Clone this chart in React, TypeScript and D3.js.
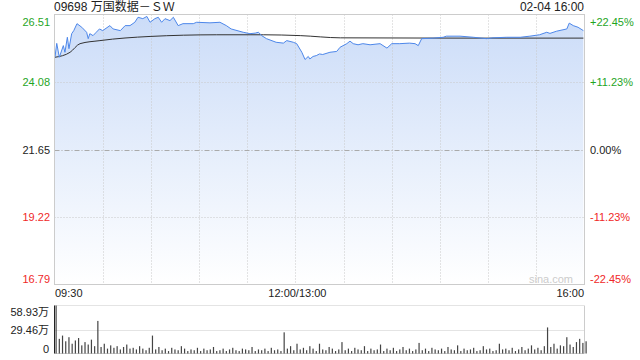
import React from "react";
import * as d3 from "d3";

const title = "09698 万国数据－ＳＷ";
const dateLabel = "02-04 16:00";
const priceTicks = [26.51, 24.08, 21.65, 19.22, 16.79];
const pctTicks = ["+22.45%", "+11.23%", "0.00%", "-11.23%", "-22.45%"];
const timeLabels = ["09:30", "12:00/13:00", "16:00"];
const volTickLabels = ["58.93万", "29.46万", "0"];
const volTickValues = [58.93, 29.46, 0];

// minute offsets from 09:30 (trading minutes, lunch removed)
const priceMinutes = [0.3, 1.4, 3, 5.5, 6.5, 8, 9, 10.7, 12, 14, 17, 20, 21, 22, 24, 26, 28, 30, 34.5, 36.5, 41, 44, 47, 50, 52, 55, 57.5, 59.5, 62.5, 64.6, 66.7, 68.8, 71.9, 74, 77, 80, 86.4, 88.5, 96.8, 103, 107, 110, 117.5, 121.7, 125, 127, 129, 132, 138, 142.5, 144.6, 148.7, 150.8, 154, 156, 158, 159, 161, 163, 165, 167, 171.5, 175.7, 177.8, 182, 184, 186, 189, 192, 196.5, 202.7, 207, 210, 215, 221, 224.5, 226.5, 228.6, 236, 242, 244, 252.5, 260.8, 269, 273, 281.5, 290, 296, 302, 306.5, 308.5, 312.7, 319, 320.5, 323, 326, 329.3];
const priceValues = [24.97, 25.47, 24.97, 25.39, 25.15, 25.69, 25.28, 25.82, 25.93, 26.18, 26.05, 25.87, 25.64, 25.82, 25.75, 25.87, 25.99, 25.93, 26.11, 25.99, 25.93, 26.11, 26.11, 26.23, 26.41, 26.36, 26.44, 26.23, 26.36, 26.41, 26.23, 26.36, 26.29, 26.41, 26.11, 26.18, 26.18, 26.23, 26.21, 26.23, 26.11, 25.99, 25.87, 25.82, 25.84, 25.87, 25.75, 25.64, 25.51, 25.48, 25.57, 25.51, 25.46, 25.15, 24.89, 25.0, 24.91, 25.0, 25.03, 25.09, 25.07, 25.15, 25.18, 25.33, 25.46, 25.55, 25.46, 25.42, 25.46, 25.42, 25.46, 25.3, 25.46, 25.46, 25.48, 25.46, 25.39, 25.64, 25.66, 25.69, 25.73, 25.73, 25.69, 25.64, 25.67, 25.69, 25.69, 25.73, 25.78, 25.87, 25.83, 25.91, 25.99, 26.2, 26.11, 26.05, 25.93];

const avgMinutes = [0.3, 9.7, 15.9, 28.3, 59.5, 101, 130, 153, 178, 250, 329.3];
const avgValues = [24.97, 25.15, 25.46, 25.57, 25.72, 25.78, 25.78, 25.75, 25.67, 25.66, 25.66];

// volume (万) per 2-minute slot
const volumeValues = [
  58.9,
  18, 22, 15, 20, 12, 16, 19, 10, 14, 11, 17, 9,
  40,
  8, 12, 6, 10, 7, 9, 5, 8, 11, 6, 7, 5, 9, 6, 4, 7,
  22,
  5, 8, 4, 6, 3, 7, 5, 4, 9, 6,
  3, 5, 4, 7, 3, 6, 4, 5, 8, 3,
  4, 6, 3, 5, 7, 4, 3, 6, 5, 4,
  8, 3, 5, 4, 6, 3, 7, 4, 5, 3,
  26,
  6, 9, 4, 12,
  5, 7, 4, 9, 6, 3, 12, 5, 4, 8,
  6, 3, 5, 14, 4, 6, 3, 7, 5, 4,
  9, 3, 6, 4, 5, 11, 3, 6, 4, 7,
  3, 5, 8, 4, 6, 3, 5, 13, 4, 6,
  3, 7, 5, 4, 6, 3, 8, 5, 4, 10,
  3, 6, 4, 5, 7, 3, 4, 9, 5, 6,
  3, 4, 12, 5, 6, 4, 7, 3, 5, 8,
  4, 6, 10, 5, 7, 4, 9,
  32,
  8, 12, 6, 10, 9,
  20,
  11, 8, 14,
  18,
  13, 15,
];
const volSlotMinutes = 2;

const GREEN = "#1fa51f";
const RED = "#f02828";
const FONT = "'Liberation Sans', Arial, 'Noto Sans CJK SC', sans-serif";

export default function App() {
  const L = 54.5, R = 584.5, T = 14.5, B = 284.5;
  const VT = 305.5, VB = 353.5;
  const x = d3.scaleLinear().domain([0, 330]).range([L, R]);
  const y = d3.scaleLinear().domain([16.79, 26.51]).range([B, T]);
  const vy = d3.scaleLinear().domain([0, 58.93]).range([VB, VT]);

  const pts: [number, number][] = priceMinutes.map((m, i) => [m, priceValues[i]]);
  const line = d3.line<[number, number]>().x(d => x(d[0])).y(d => y(d[1]));
  const area = d3.area<[number, number]>().x(d => x(d[0])).y0(B).y1(d => y(d[1]));
  const avgPts: [number, number][] = avgMinutes.map((m, i) => [m, avgValues[i]]);
  const avgLine = d3.line<[number, number]>().x(d => x(d[0])).y(d => y(d[1])).curve(d3.curveMonotoneX);

  const vLines = d3.range(1, 11).map(i => x(i * 30));
  const labelColor = (i: number) => (i < 2 ? GREEN : i === 2 ? "#222" : RED);
  const labelY = (i: number, v: number) => (i === 0 ? T + 7 : i === 4 ? B - 6 : y(v));

  return (
    <svg width={640} height={360} style={{ position: "absolute", left: 0, top: 0, background: "#fff" }} fontFamily={FONT}>
      <defs>
        <linearGradient id="fillG" gradientUnits="userSpaceOnUse" x1="0" y1={T} x2="0" y2={B}>
          <stop offset="0" stopColor="#cbdcf8" />
          <stop offset="1" stopColor="#ffffff" />
        </linearGradient>
      </defs>
      <text x={54} y={7} dominantBaseline="central" fontSize={12} fill="#222">{title}</text>
      <text x={584} y={7} dominantBaseline="central" fontSize={12} fill="#222" textAnchor="end">{dateLabel}</text>

      <path d={area(pts) || ""} fill="url(#fillG)" />

      {vLines.map((vx, i) => (
        <line key={"v" + i} x1={Math.round(vx) + 0.5} x2={Math.round(vx) + 0.5} y1={T} y2={B} stroke="#c8c8c8" strokeDasharray="1,2" />
      ))}
      {priceTicks.slice(1, 4).map((v, i) => (
        <line key={"h" + i} x1={L} x2={R} y1={Math.round(y(v)) + 0.5} y2={Math.round(y(v)) + 0.5}
          stroke={i === 1 ? "#aaa" : "#c8c8c8"} strokeDasharray={i === 1 ? "5,2,1,2" : "1,2"} />
      ))}

      <path d={avgLine(avgPts) || ""} fill="none" stroke="#333" strokeWidth={1} />
      <path d={line(pts) || ""} fill="none" stroke="#4d87ea" strokeWidth={1} />

      <rect x={L} y={T} width={R - L} height={B - T} fill="none" stroke="#cccccc" />

      {priceTicks.map((v, i) => (
        <text key={"pl" + i} x={50} y={labelY(i, v)} dominantBaseline="central" textAnchor="end" fontSize={11} fill={labelColor(i)}>{v.toFixed(2)}</text>
      ))}
      {pctTicks.map((t, i) => (
        <text key={"pr" + i} x={590} y={labelY(i, priceTicks[i])} dominantBaseline="central" fontSize={11} fill={labelColor(i)}>{t}</text>
      ))}
      <text x={573} y={279} dominantBaseline="central" textAnchor="end" fontSize={11} fill="#cccccc">sina.com</text>

      <text x={55} y={293} dominantBaseline="central" fontSize={11} fill="#222">{timeLabels[0]}</text>
      <text x={x(150) + 2} y={293} dominantBaseline="central" textAnchor="middle" fontSize={11} fill="#222">{timeLabels[1]}</text>
      <text x={584} y={293} dominantBaseline="central" textAnchor="end" fontSize={11} fill="#222">{timeLabels[2]}</text>

      {/* volume panel */}
      <line x1={L} x2={R} y1={VT} y2={VT} stroke="#c8c8c8" strokeDasharray="1,1" />
      <line x1={L} x2={R} y1={Math.round(vy(29.46)) + 0.5} y2={Math.round(vy(29.46)) + 0.5} stroke="#c8c8c8" strokeDasharray="1,1" />
      <line x1={R} x2={R} y1={VT} y2={VB} stroke="#cccccc" />
      <line x1={L} x2={R} y1={VB} y2={VB} stroke="#cccccc" />
      {volumeValues.map((v, i) => {
        const bx = x(i * volSlotMinutes) + 1;
        return <rect key={"b" + i} x={bx} y={vy(v)} width={1.2} height={VB - vy(v)} fill="#444" />;
      })}
      <line x1={L} x2={L} y1={VT} y2={VB} stroke="#222" />
      {volTickLabels.map((t, i) => (
        <text key={"vl" + i} x={49} y={i === 0 ? VT + 6 : i === 2 ? VB - 5 : vy(volTickValues[i])} dominantBaseline="central" textAnchor="end" fontSize={11} fill="#222">{t}</text>
      ))}
    </svg>
  );
}
